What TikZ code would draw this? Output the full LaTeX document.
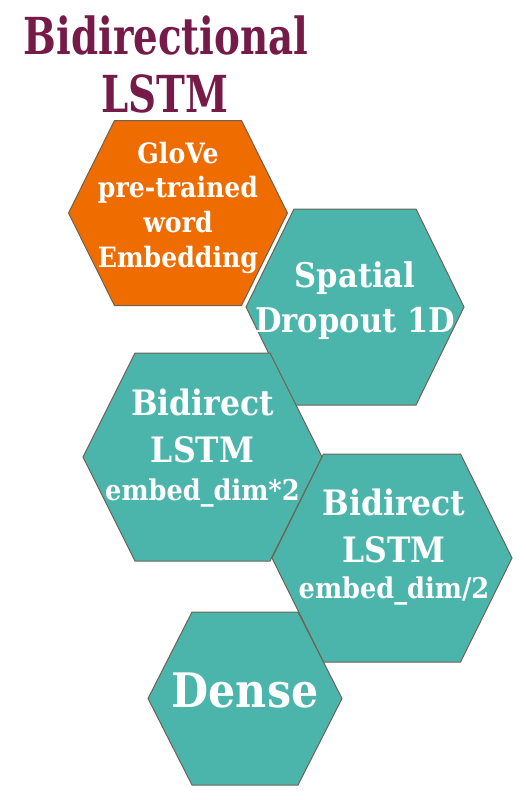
\documentclass[tikz,border=0pt]{standalone}
\usepackage{fontspec}
\setmainfont{DejaVu Serif}
\newfontfamily\slab[FakeStretch=0.9]{DejaVu Serif}
\newfontfamily\slabnarrow[FakeStretch=0.76]{DejaVu Serif}
\definecolor{titleplum}{HTML}{761B47}
\definecolor{gloveorange}{HTML}{EE6C00}
\definecolor{layerteal}{HTML}{4BB5AC}
\definecolor{hexline}{HTML}{6E6353}
% hexagon with flat top: fill, centre x, centre y, half width, half top edge, half height
\newcommand\hexcell[6]{%
  \filldraw[hexcell,fill=#1] ({#2-#5},{#3-#6}) -- ({#2+#5},{#3-#6}) -- ({#2+#4},#3)
    -- ({#2+#5},{#3+#6}) -- ({#2-#5},{#3+#6}) -- ({#2-#4},#3) -- cycle;}
\begin{document}
\begin{tikzpicture}[x=1pt,y=-1pt,
  hexcell/.style={draw=hexline,line width=1pt,line join=miter},
  heading/.style={text=titleplum,font=\slabnarrow\bfseries\fontsize{51}{51}\selectfont,anchor=base,inner sep=0pt},
  cellline/.style={text=white,anchor=base,inner sep=0pt},
  fs/.style={font=\slab\bfseries\fontsize{#1}{#1}\selectfont}]
\useasboundingbox (0,0) rectangle (526,800);
\fill[white] (0,0) rectangle (526,800);

% title
\node[heading] (title1) at (166,55) {Bidirectional};
\node[heading] (title2) at (165,112) {LSTM};

% layer cells
\hexcell{gloveorange}{178}{213}{109.5}{63.5}{92.5}
\hexcell{layerteal}{355}{307}{109}{61}{98}
\hexcell{layerteal}{202.5}{457}{119.5}{67.5}{104}
\hexcell{layerteal}{392}{558}{120}{68.5}{104}
\hexcell{layerteal}{245}{698.5}{97}{53}{86.5}

% GloVe embedding
\node[cellline,fs=28] (glove1) at (178,163) {GloVe};
\node[cellline,fs=28] (glove2) at (178,197) {pre-trained};
\node[cellline,fs=28] (glove3) at (178,232) {word};
\node[cellline,fs=28] (glove4) at (178,267) {Embedding};

% spatial dropout
\node[cellline,fs=34] (drop1) at (355,287) {Spatial};
\node[cellline,fs=34] (drop2) at (355,332) {Dropout 1D};

% first bidirectional LSTM
\node[cellline,fs=35] (bia1) at (202.5,415) {Bidirect};
\node[cellline,fs=35] (bia2) at (202.5,462) {LSTM};
\node[cellline,fs=28.5] (bia3) at (202.5,500) {embed\_dim*2};

% second bidirectional LSTM
\node[cellline,fs=35] (bib1) at (394,515) {Bidirect};
\node[cellline,fs=35] (bib2) at (394,562) {LSTM};
\node[cellline,fs=28.5] (bib3) at (394,598) {embed\_dim/2};

% dense
\node[cellline,fs=47.5] (dense) at (245,707) {Dense};
\end{tikzpicture}
\end{document}
